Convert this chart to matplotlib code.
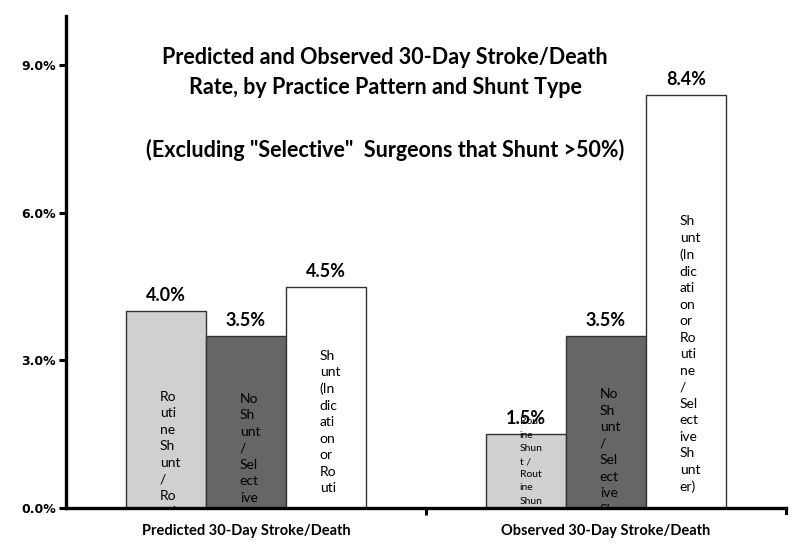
import matplotlib
matplotlib.use("Agg")
import matplotlib.pyplot as plt
import numpy as np
from matplotlib.ticker import FuncFormatter

# ---- data ----
categories = ["Predicted 30-Day Stroke/Death", "Observed 30-Day Stroke/Death"]
series_names = ["Routine Shunt / Routine Shunter",
                "No Shunt / Selective Shunter",
                "Shunt (Indication or Routine / Selective Shunter)"]
routine_shunt = [4.0, 1.5]
no_shunt = [3.5, 3.5]
shunt_other = [4.5, 8.4]
values = [routine_shunt, no_shunt, shunt_other]
value_labels = [["4.0%", "1.5%"], ["3.5%", "3.5%"], ["4.5%", "8.4%"]]
yticks = [0.0, 3.0, 6.0, 9.0]

# wrapped in-bar data labels (as rendered in the source)
inbar_labels = [
    ["Ro\nuti\nne\nSh\nunt\n/\nRo\nuti\nne\nSh\nunt\ner",
     "Rout\nine\nShun\nt /\nRout\nine\nShun\nter"],
    ["No\nSh\nunt\n/\nSel\nect\nive\nSh\nunt\ner",
     "No\nSh\nunt\n/\nSel\nect\nive\nSh\nunt\ner"],
    ["Sh\nunt\n(In\ndic\nati\non\nor\nRo\nuti",
     "Sh\nunt\n(In\ndic\nati\non\nor\nRo\nuti\nne\n/\nSel\nect\nive\nSh\nunt\ner)"],
]
# top of each in-bar label (data units, %)
inbar_tops = [[2.38, 1.84], [2.34, 2.43], [3.22, 5.95]]
inbar_sizes = [[10, 7.5], [10, 10], [10, 10]]
inbar_spacing = [[1.45, 1.6], [1.45, 1.45], [1.45, 1.45]]

colors = ["#d0d0d0", "#666666", "#ffffff"]

fig = plt.figure(figsize=(8, 5.44), dpi=100)
ax = fig.add_axes([66/800, 1-508/544, 720/800, 492/544])

x = np.arange(len(categories))
w = 0.222
offsets = [-w, 0, w]
for i in range(3):
    bars = ax.bar(x + offsets[i], values[i], width=w, color=colors[i],
                  edgecolor="#333333", linewidth=1.0, zorder=2)
    for j, b in enumerate(bars):
        cx = b.get_x() + b.get_width()/2
        ax.annotate(value_labels[i][j], (cx, b.get_height()),
                    xytext=(0, 5), textcoords="offset points",
                    ha="center", va="bottom", fontsize=13,
                    fontweight="bold", family="Lato", zorder=3)
        t = ax.annotate(inbar_labels[i][j], (cx, inbar_tops[i][j]),
                        xytext=(-4.5, 0), textcoords="offset points",
                        ha="left", va="top", fontsize=inbar_sizes[i][j],
                        family="Lato", linespacing=inbar_spacing[i][j],
                        zorder=3, annotation_clip=False)
        t.set_clip_on(True)
        t.set_clip_path(ax.patch)

ax.set_xlim(-0.5, 1.5)
ax.set_ylim(0, 10)
ax.set_yticks(yticks)
ax.yaxis.set_major_formatter(FuncFormatter(lambda v, p: f"{v:.1f}%"))
ax.set_xticks([0.5])
ax.set_xticklabels([""])
ax.tick_params(axis="y", direction="out", length=5, width=2.2, pad=2,
               labelsize=9)
ax.tick_params(axis="x", direction="out", length=5, width=2.2)
for lab in ax.get_yticklabels():
    lab.set_fontweight("bold")
    lab.set_family("DejaVu Sans")

for s in ["top", "right"]:
    ax.spines[s].set_visible(False)
for s in ["left", "bottom"]:
    ax.spines[s].set_linewidth(2.4)
    ax.spines[s].set_zorder(5)
# end tick at right end of x-axis
ax.plot([1.5, 1.5], [0, -0.1], color="black", lw=2.2, clip_on=False)

for j, c in enumerate(categories):
    ax.text(x[j], -0.46, c, ha="center", va="center", fontsize=10.5,
            fontweight="bold", family="Lato", transform=ax.transData)

fig.text(385/800, 1-47/544,
         "Predicted and Observed 30-Day Stroke/Death\n"
         "Rate, by Practice Pattern and Shunt Type\n\n"
         "(Excluding \"Selective\"  Surgeons that Shunt >50%)",
         ha="center", va="top", fontsize=15.5, fontweight="bold",
         family="Lato", linespacing=1.55)

fig.savefig("out.png", dpi=100, facecolor="white")
